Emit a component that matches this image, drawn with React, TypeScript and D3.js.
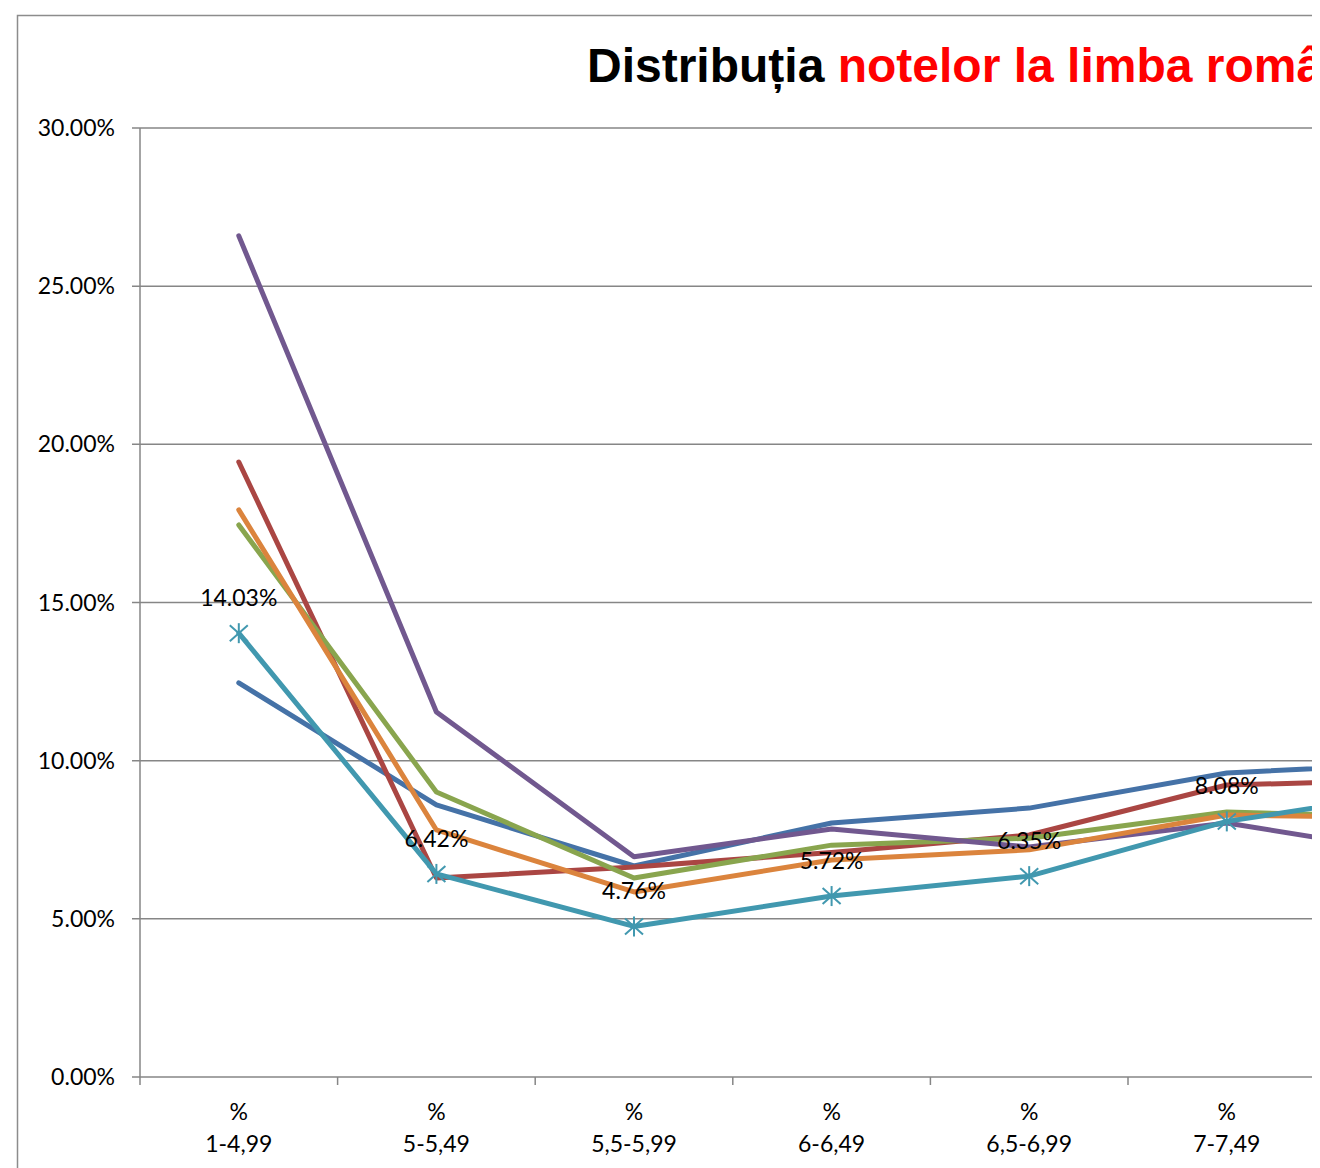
import React from "react";
import * as d3 from "d3";

const categories = ["1-4,99", "5-5,49", "5,5-5,99", "6-6,49", "6,5-6,99", "7-7,49", "7,5-7,99"];
const yTicks = [0, 0.05, 0.1, 0.15, 0.2, 0.25, 0.3];

const seriesBlue = [0.1246, 0.086, 0.0667, 0.0803, 0.085, 0.0961, 0.0993];
const seriesRed = [0.1944, 0.0629, 0.0664, 0.071, 0.0765, 0.0923, 0.0939];
const seriesGreen = [0.1745, 0.0901, 0.0629, 0.0733, 0.0755, 0.0838, 0.082];
const seriesPurple = [0.2659, 0.1154, 0.0696, 0.0784, 0.0727, 0.0803, 0.0702];
const seriesOrange = [0.1793, 0.0781, 0.0585, 0.0686, 0.0718, 0.0828, 0.082];
const seriesCyan = [0.1403, 0.0642, 0.0476, 0.0572, 0.0635, 0.0808, 0.0904];

const series = [
  { name: "Seria 1", values: seriesBlue, color: "#4572A7" },
  { name: "Seria 2", values: seriesRed, color: "#AA4643" },
  { name: "Seria 3", values: seriesGreen, color: "#89A54E" },
  { name: "Seria 4", values: seriesPurple, color: "#71588F" },
  { name: "Seria 6", values: seriesOrange, color: "#DB843D" },
  { name: "Seria 5", values: seriesCyan, color: "#4198AF", markers: true, labels: true },
];

const W = 1320;
const H = 1168;
const CLIP_W = 1312;
const plotLeft = 140;
const plotTop = 128;
const plotBottom = 1077;
const bandW = 197.6;
const FONT = "Lato, 'Open Sans', sans-serif";
const FS = 23;

export default function App() {
  const x = d3
    .scaleBand<string>()
    .domain(categories)
    .range([plotLeft, plotLeft + bandW * categories.length]);
  const y = d3.scaleLinear().domain([0, 0.3]).range([plotBottom, plotTop]);
  const cx = (i: number) => (x(categories[i]) as number) + x.bandwidth() / 2;
  const line = d3
    .line<number>()
    .x((_, i) => cx(i))
    .y((d) => y(d));
  const fmt = d3.format(".2%");
  const visible = (i: number) => cx(i) + 45 < CLIP_W;

  return (
    <svg width={W} height={H} style={{ display: "block", position: "absolute", left: 0, top: 0 }}>
      <defs>
        <clipPath id="clipAll">
          <rect x={0} y={0} width={CLIP_W} height={H} />
        </clipPath>
      </defs>
      <rect x={0} y={0} width={W} height={H} fill="#fff" />
      <g clipPath="url(#clipAll)">
        <rect x={17.5} y={15.5} width={1500} height={1300} fill="#fff" stroke="#8c8c8c" strokeWidth={1.5} />
        <text x={587} y={82} fontFamily="'Liberation Sans', Arial, sans-serif" fontWeight="bold" fontSize={48}>
          <tspan fill="#000">Distribuția </tspan>
          <tspan fill="#ff0000">notelor la limba română</tspan>
        </text>
        {yTicks.map((t) => (
          <g key={t}>
            <line x1={132} x2={1600} y1={y(t)} y2={y(t)} stroke="#868686" strokeWidth={1.5} />
            <text x={115} y={y(t) + 8} textAnchor="end" fontFamily={FONT} fontSize={FS} fill="#000">
              {fmt(t)}
            </text>
          </g>
        ))}
        <line x1={plotLeft} x2={plotLeft} y1={plotTop} y2={plotBottom + 8} stroke="#868686" strokeWidth={1.5} />
        {categories.map((c, i) => (
          <g key={c}>
            <line
              x1={(x(c) as number) + bandW}
              x2={(x(c) as number) + bandW}
              y1={plotBottom}
              y2={plotBottom + 8}
              stroke="#868686"
              strokeWidth={1.5}
            />
            {visible(i) && (
              <>
                <text x={cx(i)} y={1120} textAnchor="middle" fontFamily={FONT} fontSize={FS} fill="#000">
                  %
                </text>
                <text x={cx(i)} y={1152} textAnchor="middle" fontFamily={FONT} fontSize={FS} fill="#000">
                  {c}
                </text>
              </>
            )}
          </g>
        ))}
        {series.map((s) => (
          <g key={s.name}>
            <path
              d={line(s.values) || ""}
              fill="none"
              stroke={s.color}
              strokeWidth={5}
              strokeLinejoin="round"
              strokeLinecap="round"
            />
            {s.markers &&
              s.values.map((v, i) => (
                <g key={i} transform={`translate(${cx(i)},${y(v)})`} stroke={s.color} strokeWidth={2}>
                  <line x1={0} y1={-10} x2={0} y2={10} />
                  <line x1={-9} y1={-8} x2={9} y2={8} />
                  <line x1={-9} y1={8} x2={9} y2={-8} />
                </g>
              ))}
          </g>
        ))}
        {series
          .filter((s) => s.labels)
          .map((s) =>
            s.values.map((v, i) =>
              visible(i) ? (
                <text
                  key={s.name + i}
                  x={cx(i)}
                  y={y(v) - 27}
                  textAnchor="middle"
                  fontFamily={FONT}
                  fontSize={FS}
                  fill="#000"
                >
                  {fmt(v)}
                </text>
              ) : null
            )
          )}
      </g>
    </svg>
  );
}
